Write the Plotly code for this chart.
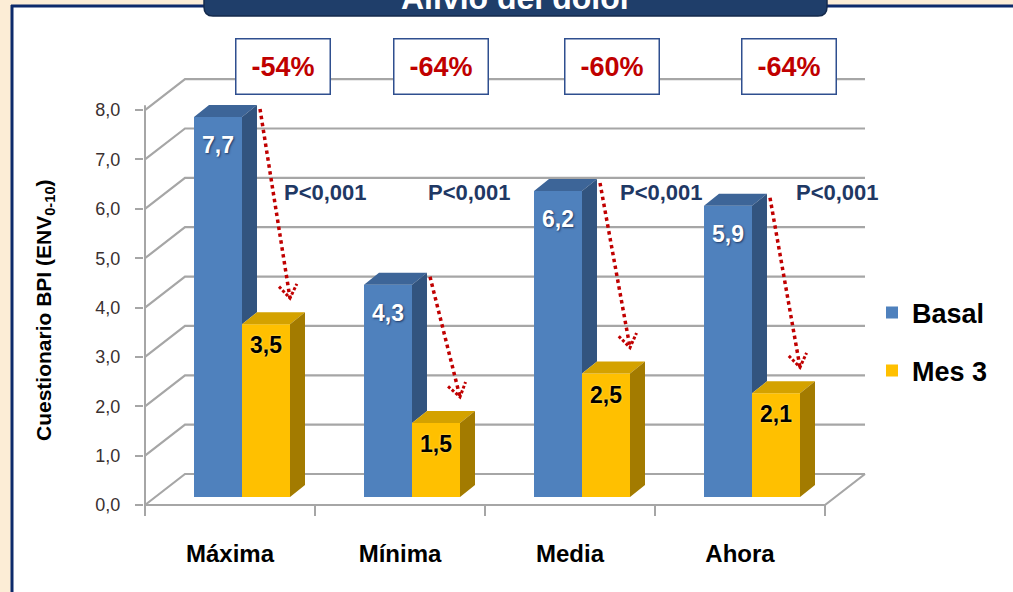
import math
import plotly.graph_objects as go

# ---------------- data ----------------
categories = ["Máxima", "Mínima", "Media", "Ahora"]
basal = [7.7, 4.3, 6.2, 5.9]
mes3 = [3.5, 1.5, 2.5, 2.1]
reductions = ["-54%", "-64%", "-60%", "-64%"]
p_values = ["P<0,001", "P<0,001", "P<0,001", "P<0,001"]
y_ticks = [0, 1, 2, 3, 4, 5, 6, 7, 8]
series_names = ["Basal", "Mes 3"]
chart_title = "Alivio del dolor"
y_title = "Cuestionario BPI (ENV<sub>0-10</sub>)"

# ---------------- layout geometry ----------------
W, H = 1013, 592
L, R, T, B = 144, 147, 78, 73
KX = 170.0          # px per category
KY = 49.36          # px per value unit
PW = W - L - R
PH = H - T - B
X_RANGE = [-1 / KX, (PW - 1) / KX]
Y_RANGE = [-14 / KY, (PH - 14) / KY]

WALL_DX = 40 / KX
WALL_DY = 31 / KY
BAR_W = 48 / KX
BAR_SHIFT = 12 / KX
BAR_BASE = 8 / KY
DEP_X = 15 / KX
DEP_Y = 12 / KY
N = len(categories)
P_DX = [40 / KX, 14 / KX, 36 / KX, 42 / KX]
BOX_DX = [41 / KX, 29 / KX, 30 / KX, 37 / KX]

FONT = "Liberation Sans"
BLUE, BLUE_TOP, BLUE_SIDE = "#4F81BD", "#3D6598", "#32547F"
YEL, YEL_TOP, YEL_SIDE = "#FFC000", "#D4A200", "#A37B00"
GRID = "#A6A6A6"
RED = "#C00000"
NAVY = "#1F3864"


def px_x(p):
    return (p - L) / PW


def px_y(p):
    return (H - B - p) / PH


def fmt(v):
    return f"{v:.1f}".replace(".", ",")


boundary = [i + 0.5 + BAR_SHIFT for i in range(N)]
blue_x = [b - BAR_W / 2 for b in boundary]
yel_x = [b + BAR_W / 2 for b in boundary]

fig = go.Figure()

fig.add_trace(go.Bar(x=blue_x, y=basal, base=BAR_BASE, width=BAR_W,
                     marker=dict(color=BLUE, line=dict(width=0)),
                     name="<b>" + series_names[0] + "</b>", legend="legend",
                     hoverinfo="skip"))
fig.add_trace(go.Bar(x=yel_x, y=mes3, base=BAR_BASE, width=BAR_W,
                     marker=dict(color=YEL, line=dict(width=0)),
                     name="<b>" + series_names[1] + "</b>", legend="legend2",
                     hoverinfo="skip"))


def faces(kind):
    xs, ys = [], []
    for i in range(N):
        b = boundary[i]
        bt = basal[i] + BAR_BASE
        yt = mes3[i] + BAR_BASE
        if kind == "blue_top":
            pts = [(b - BAR_W, bt), (b - BAR_W + DEP_X, bt + DEP_Y), (b + DEP_X, bt + DEP_Y), (b, bt)]
        elif kind == "blue_side":
            pts = [(b, yt), (b, bt), (b + DEP_X, bt + DEP_Y), (b + DEP_X, yt + DEP_Y)]
        elif kind == "yel_top":
            pts = [(b, yt), (b + DEP_X, yt + DEP_Y), (b + BAR_W + DEP_X, yt + DEP_Y), (b + BAR_W, yt)]
        else:
            r = b + BAR_W
            pts = [(r, BAR_BASE), (r, yt), (r + DEP_X, yt + DEP_Y), (r + DEP_X, BAR_BASE + DEP_Y)]
        pts.append(pts[0])
        xs += [p[0] for p in pts] + [None]
        ys += [p[1] for p in pts] + [None]
    return xs, ys


for kind, col in [("blue_top", BLUE_TOP), ("blue_side", BLUE_SIDE),
                  ("yel_top", YEL_TOP), ("yel_side", YEL_SIDE)]:
    xs, ys = faces(kind)
    fig.add_trace(go.Scatter(x=xs, y=ys, mode="lines", fill="toself",
                             fillcolor=col, line=dict(width=0, color=col),
                             showlegend=False, hoverinfo="skip"))

# dotted arrows (shaft) + chevron heads
ax_, ay_ = [], []
hx_, hy_ = [], []
for i in range(N):
    b = boundary[i]
    sx, sy = b + 18 / KX, basal[i] + BAR_BASE + 8 / KY
    ex, ey = b + 48 / KX, mes3[i] + BAR_BASE + DEP_Y + 14 / KY
    ax_ += [sx, ex, None]
    ay_ += [sy, ey, None]
    dxp, dyp = (ex - sx) * KX, (ey - sy) * KY
    ln = math.hypot(dxp, dyp)
    ux, uy = -dxp / ln, -dyp / ln
    wings = []
    for ang in (0.6, -0.6):
        wx = ux * math.cos(ang) - uy * math.sin(ang)
        wy = ux * math.sin(ang) + uy * math.cos(ang)
        wings.append((ex + wx * 16 / KX, ey + wy * 16 / KY))
    hx_ += [wings[0][0], ex, wings[1][0], None]
    hy_ += [wings[0][1], ey, wings[1][1], None]
fig.add_trace(go.Scatter(x=ax_, y=ay_, mode="lines",
                         line=dict(color=RED, width=3.5, dash="dot"),
                         showlegend=False, hoverinfo="skip"))
fig.add_trace(go.Scatter(x=hx_, y=hy_, mode="lines",
                         line=dict(color=RED, width=3, dash="3px,2px"),
                         showlegend=False, hoverinfo="skip"))

shapes = []
# page background pieces
shapes.append(dict(type="rect", xref="paper", yref="paper", layer="below",
                   x0=px_x(13), x1=px_x(W + 5), y0=px_y(7), y1=px_y(H + 5),
                   fillcolor="white", line=dict(width=0)))
shapes.append(dict(type="line", xref="paper", yref="paper", layer="below",
                   x0=px_x(12), x1=px_x(12), y0=px_y(5), y1=px_y(H + 5),
                   line=dict(color="#0D2A6B", width=3)))
shapes.append(dict(type="line", xref="paper", yref="paper", layer="below",
                   x0=px_x(11), x1=px_x(W + 5), y0=px_y(6), y1=px_y(6),
                   line=dict(color="#0D2A6B", width=3)))

# back-wall grid lines
for v in y_ticks:
    path = f"M 0,{v} L {WALL_DX},{v + WALL_DY} L {N + WALL_DX},{v + WALL_DY}"
    shapes.append(dict(type="path", xref="x", yref="y", layer="below", path=path,
                       line=dict(color=GRID, width=2.2)))
# floor front + right edge
shapes.append(dict(type="path", xref="x", yref="y", layer="below",
                   path=f"M 0,0 L {N},0 L {N + WALL_DX},{WALL_DY}",
                   line=dict(color=GRID, width=2.2)))
# y axis line
shapes.append(dict(type="line", xref="x", yref="y", layer="below",
                   x0=0, x1=0, y0=0, y1=y_ticks[-1] + 0.1,
                   line=dict(color=GRID, width=2)))
# x ticks at category boundaries
for i in range(N + 1):
    shapes.append(dict(type="line", xref="x", yref="y", layer="below",
                       x0=i, x1=i, y0=0, y1=-11 / KY,
                       line=dict(color=GRID, width=2)))

# title box
tx0, tx1, tb, ttop, rr = 204, 827, 16, -20, 9
tpath = (f"M {px_x(tx0)},{px_y(ttop)} L {px_x(tx0)},{px_y(tb - rr)} "
         f"Q {px_x(tx0)},{px_y(tb)} {px_x(tx0 + rr)},{px_y(tb)} "
         f"L {px_x(tx1 - rr)},{px_y(tb)} Q {px_x(tx1)},{px_y(tb)} {px_x(tx1)},{px_y(tb - rr)} "
         f"L {px_x(tx1)},{px_y(ttop)} Z")
shapes.append(dict(type="path", xref="paper", yref="paper", layer="above", path=tpath,
                   fillcolor="#1F3E6A", line=dict(color="#142A4C", width=1.5)))

annotations = []
annotations.append(dict(xref="paper", yref="paper", x=px_x(516), y=px_y(-2),
                        text="<b>" + chart_title + "</b>", showarrow=False,
                        xanchor="center", yanchor="middle",
                        font=dict(family=FONT, size=32, color="white")))
# y title
annotations.append(dict(xref="paper", yref="paper", x=px_x(45), y=px_y(310),
                        text="<b>" + y_title + "</b>", showarrow=False, textangle=-90,
                        xanchor="center", yanchor="middle",
                        font=dict(family=FONT, size=21, color="black")))
for i in range(N):
    b = boundary[i]
    # value labels
    annotations.append(dict(x=b - BAR_W / 2, y=basal[i] + BAR_BASE, yshift=-28,
                            text="<b>" + fmt(basal[i]) + "</b>", showarrow=False,
                            xanchor="center", yanchor="middle",
                            font=dict(family=FONT, size=23, color="white",
                                      shadow="1px 1px 2px #1F3864")))
    annotations.append(dict(x=b + BAR_W / 2, y=mes3[i] + BAR_BASE, yshift=-21,
                            text="<b>" + fmt(mes3[i]) + "</b>", showarrow=False,
                            xanchor="center", yanchor="middle",
                            font=dict(family=FONT, size=23, color="black",
                                      shadow="0px 0px 2px #FFF2A0")))
    # p-values
    annotations.append(dict(x=b + P_DX[i], yref="paper", y=px_y(192),
                            text="<b>" + p_values[i] + "</b>", showarrow=False,
                            xanchor="left", yanchor="middle",
                            font=dict(family=FONT, size=22, color=NAVY)))
    # reduction boxes
    annotations.append(dict(x=b + BOX_DX[i], yref="paper", y=px_y(67),
                            text="<b>" + reductions[i] + "</b>", showarrow=False,
                            xanchor="center", yanchor="middle",
                            width=91, height=52, bgcolor="white",
                            bordercolor="#2F4F8F", borderwidth=1.5,
                            font=dict(family=FONT, size=27, color=RED)))

fig.update_layout(
    width=W, height=H,
    margin=dict(l=L, r=R, t=T, b=B, pad=0),
    paper_bgcolor="#FCEDD6",
    plot_bgcolor="rgba(0,0,0,0)",
    barmode="overlay",
    separators=",.",
    font=dict(family=FONT, color="black"),
    xaxis=dict(range=X_RANGE, showgrid=False, zeroline=False, showline=False,
               tickmode="array", tickvals=[i + 0.5 for i in range(N)],
               ticktext=["<b>" + c + "</b>" for c in categories],
               ticks="", ticklabelstandoff=18,
               tickfont=dict(family=FONT, size=24, color="black")),
    yaxis=dict(range=Y_RANGE, showgrid=False, zeroline=False, showline=False,
               tickmode="array", tickvals=y_ticks, tickformat=".1f",
               ticks="outside", ticklen=8, tickwidth=2, tickcolor=GRID,
               ticklabelstandoff=11,
               tickfont=dict(family=FONT, size=18, color="#3A3030")),
    legend=dict(x=px_x(872), y=px_y(313), xanchor="left", yanchor="middle",
                bgcolor="rgba(0,0,0,0)", font=dict(family=FONT, size=27, color="black")),
    legend2=dict(x=px_x(872), y=px_y(371), xanchor="left", yanchor="middle",
                 bgcolor="rgba(0,0,0,0)", font=dict(family=FONT, size=27, color="black")),
    shapes=shapes,
    annotations=annotations,
)

fig.write_html("out.html",
               config={"displayModeBar": False},
               post_script="document.body.style.margin='0px';"
                           "document.body.style.overflow='hidden';")
